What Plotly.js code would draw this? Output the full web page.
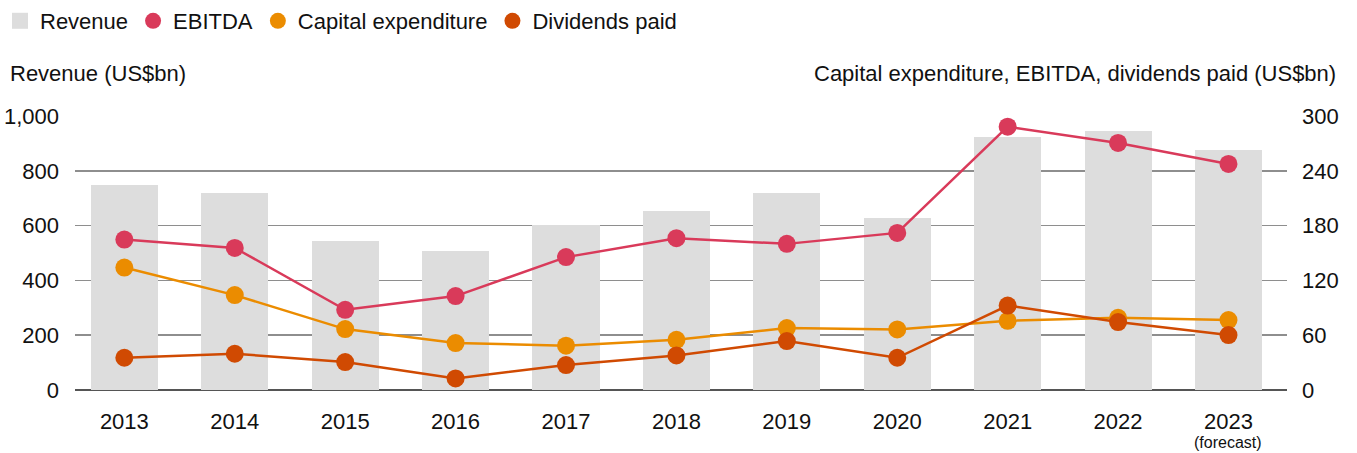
<!DOCTYPE html>
<html>
<head>
<meta charset="utf-8">
<script src="https://cdn.plot.ly/plotly-3.0.1.min.js"></script>
<style>html,body{margin:0;padding:0;background:#fff;}#chart{width:1357px;height:453px;}</style>
</head>
<body>
<div id="chart"></div>
<script>
const years = [2013, 2014, 2015, 2016, 2017, 2018, 2019, 2020, 2021, 2022, 2023];
const yearLabels = ["2013", "2014", "2015", "2016", "2017", "2018", "2019", "2020", "2021", "2022", "2023"];
const forecastNote = "(forecast)";
const revenue = [748, 720, 545, 509, 603, 654, 720, 627, 924, 945, 876];
const ebitda = [164.7, 155.6, 87.8, 102.8, 145.5, 166.2, 160, 172, 288.3, 270.5, 247.5];
const capex = [134.1, 103.9, 66.7, 51.4, 48.5, 55, 67.8, 66.3, 75.8, 79, 76.6];
const dividends = [35.3, 39.7, 30.6, 12.7, 27.3, 37.8, 53.6, 35.3, 92.5, 74.4, 60.2];
const leftTicks = [0, 200, 400, 600, 800, 1000];
const leftTickText = ["0", "200", "400", "600", "800", "1,000"];
const rightTicks = [0, 60, 120, 180, 240, 300];

const C_REV = "#dddddd", C_EB = "#d93a5a", C_CAP = "#eb8c00", C_DIV = "#d04a02";
const FONT = "Liberation Sans, Arial, Helvetica, sans-serif";
const FS = 22;

function lineTrace(name, y, color) {
  return {type: "scatter", mode: "lines+markers", name: name, x: years, y: y, yaxis: "y2",
    line: {color: color, width: 2.5}, marker: {color: color, size: 18}, showlegend: false, hoverinfo: "x+y"};
}
function legendTrace(name, color, symbol) {
  return {type: "scatter", mode: "markers", name: name, x: [null], y: [null],
    marker: {color: color, size: 17, symbol: symbol}, showlegend: true};
}

const data = [
  {type: "bar", name: "Revenue", x: years, y: revenue, marker: {color: C_REV}, width: 0.607, showlegend: false},
  lineTrace("Capital expenditure", capex, C_CAP),
  lineTrace("Dividends paid", dividends, C_DIV),
  lineTrace("EBITDA", ebitda, C_EB),
  legendTrace("Revenue", C_REV, "square"),
  legendTrace("EBITDA", C_EB, "circle"),
  legendTrace("Capital expenditure", C_CAP, "circle"),
  legendTrace("Dividends paid", C_DIV, "circle")
];

const plotH = 453 - 116 - 62.7;
const plotW = 1357 - 75 - 70;

const layout = {
  width: 1357, height: 453,
  margin: {l: 75, r: 70, t: 116, b: 62.7, pad: 0, autoexpand: false},
  paper_bgcolor: "#fff", plot_bgcolor: "#fff",
  font: {family: FONT, size: FS, color: "#111"},
  showlegend: true,
  legend: {orientation: "h", xref: "container", yref: "container", x: -3 / 1357, y: 1, xanchor: "left", yanchor: "top",
    font: {family: FONT, size: FS, color: "#111"}, traceorder: "normal", itemclick: false, bgcolor: "rgba(0,0,0,0)"},
  xaxis: {type: "linear", range: [2012.553, 2023.53], tickmode: "array", tickvals: years, ticktext: yearLabels,
    showgrid: false, zeroline: false, showline: false, ticks: "", ticklabelstandoff: 16,
    tickfont: {family: FONT, size: FS, color: "#111"}, fixedrange: true},
  yaxis: {range: [0, 1000], tickmode: "array", tickvals: leftTicks, ticktext: leftTickText,
    showgrid: true, gridcolor: "#8e8e8e", gridwidth: 1.5, zeroline: true, zerolinecolor: "#555", zerolinewidth: 1.5,
    showline: false, ticks: "", ticklabelstandoff: 15, tickfont: {family: FONT, size: FS, color: "#111"}, fixedrange: true},
  yaxis2: {range: [0, 300], overlaying: "y", side: "right", tickmode: "array", tickvals: rightTicks,
    showgrid: false, zeroline: false, showline: false, ticks: "", ticklabelstandoff: 14,
    tickfont: {family: FONT, size: FS, color: "#111"}, fixedrange: true},
  bargap: 0,
  annotations: [
    {text: "Revenue (US$bn)", xref: "paper", yref: "paper", x: (8 - 75) / plotW, y: 1 + (116 - 73) / plotH, xanchor: "left", yanchor: "middle", showarrow: false, font: {family: FONT, size: FS, color: "#111"}},
    {text: "Capital expenditure, EBITDA, dividends paid (US$bn)", xref: "paper", yref: "paper", x: (1338 - 75) / plotW, y: 1 + (116 - 73) / plotH, xanchor: "right", yanchor: "middle", showarrow: false, font: {family: FONT, size: FS, color: "#111"}},
    {text: forecastNote, xref: "x", yref: "paper", x: years[years.length - 1], y: -(443 - 390.3) / plotH, xanchor: "center", yanchor: "middle", showarrow: false, font: {family: FONT, size: 16, color: "#111"}}
  ]
};

Plotly.newPlot("chart", data, layout, {displayModeBar: false, staticPlot: true});
</script>
</body>
</html>
